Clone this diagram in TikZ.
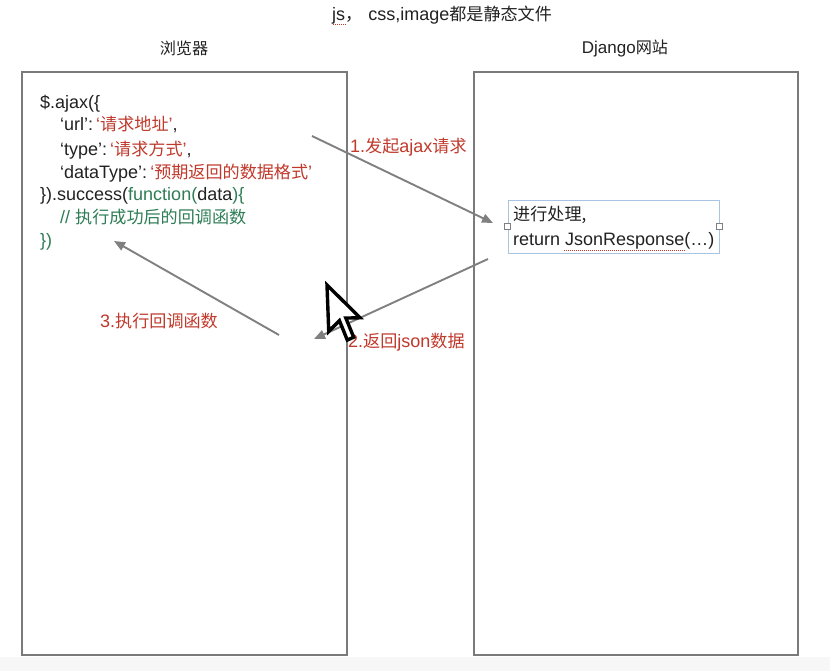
\documentclass[tikz,border=0pt]{standalone}
\usepackage{fontspec}
\setmainfont{Liberation Sans}
\newfontfamily\cjk[Scale=0.95]{Noto Sans CJK SC}
\usetikzlibrary{arrows.meta}
\definecolor{boxgray}{HTML}{7A7A7A}
\definecolor{arrgray}{HTML}{808080}
\definecolor{codered}{HTML}{C0392B}
\definecolor{codegreen}{HTML}{2E7D55}
\definecolor{txt}{HTML}{222222}
\definecolor{selblue}{HTML}{A9C3E3}
\tikzset{
  panel/.style={draw=boxgray, line width=2pt},
  title/.style={font=\fontsize{17}{20}\selectfont, text=txt, inner sep=0pt},
  codeline/.style={font=\fontsize{18}{22}\selectfont, text=txt, anchor=base west, inner sep=0pt},
  steplabel/.style={font=\fontsize{18}{22}\selectfont, text=codered, inner sep=0pt},
  flow/.style={draw=arrgray, line width=1.9pt, -{Triangle[length=11pt,width=9pt]}},
  handle/.style={draw=gray, fill=white, line width=0.6pt, minimum size=6pt, inner sep=0pt},
}
\begin{document}
\begin{tikzpicture}[x=1pt,y=-1pt]
\useasboundingbox (0,0) rectangle (830,671);
\fill[white] (0,0) rectangle (830,671);
\fill[black!3] (0,657) rectangle (830,671);

% titles
\node[title, font=\fontsize{18}{20}\selectfont, anchor=west] (top) at (332,15) {js{\cjk ，}\hspace{6pt}css,image{\cjk 都是静态文件}};
\draw[codered, densely dotted, line width=1pt] (333,25) -- (347,25);
\node[title] (t1) at (184,48) {\cjk 浏览器};
\node[title] (t2) at (625,48) {Django{\cjk 网站}};

% panels
\draw[panel] (22,72) rectangle (347,655);
\draw[panel] (474,72) rectangle (798,655);

% code
\node[codeline] (c1) at (40,109) {\$.ajax(\{};
\node[codeline] (c2) at (60,131) {‘url’:\hspace{3pt}\textcolor{codered}{‘{\cjk 请求地址}’},};
\node[codeline] (c3) at (60,156) {‘type’:\hspace{3pt}\textcolor{codered}{‘{\cjk 请求方式}’},};
\node[codeline] (c4) at (60,179) {‘dataType’:\hspace{3pt}\textcolor{codered}{‘{\cjk 预期返回的数据格式}’}};
\node[codeline] (c5) at (40,201) {\}).success(\textcolor{codegreen}{function(}data\textcolor{codegreen}{)\{}};
\node[codeline, text=codegreen] (c6) at (60,224) {// {\cjk 执行成功后的回调函数}};
\node[codeline, text=codegreen] (c7) at (40,247) {\})};

% server box
\node[draw=selblue, line width=0.8pt, minimum width=211pt, minimum height=53pt, inner sep=0pt] (srv) at (613.5,226.5) {};
\node[codeline] (s1) at (513,221) {\cjk 进行处理,};
\node[codeline] (s2) at (513,246) {return JsonResponse(…)};
\draw[codered, densely dotted, line width=1pt] (564,251) -- (685,251);
\node[handle] (h1) at (srv.west) {};
\node[handle] (h2) at (srv.east) {};

% arrows
\coordinate (a1s) at (312,136);
\coordinate (a1e) at (493,223);
\coordinate (a2s) at (488,259);
\coordinate (a2e) at (314,339);
\coordinate (a3s) at (279,335);
\coordinate (a3e) at (114,241);
\draw[flow] (a1s) -- (a1e);
\draw[flow] (a2s) -- (a2e);
\draw[flow] (a3s) -- (a3e);

\node[steplabel, anchor=west] (l1) at (350,147) {1.{\cjk 发起}ajax{\cjk 请求}};
\node[steplabel, anchor=west] (l2) at (348,342) {2.{\cjk 返回}json{\cjk 数据}};
\node[steplabel, anchor=west] (l3) at (100,321) {3.{\cjk 执行回调函数}};

% mouse cursor
\begin{scope}[shift={(327,285)}, scale=2.9]
\draw[fill=white, draw=black, line width=3.4pt, line join=miter]
  (0,0) -- (0.6,16) -- (4.3,12.3) -- (7,19) -- (9.2,18) -- (6.5,11.4) -- (11.4,11.3) -- cycle;
\end{scope}
\end{tikzpicture}
\end{document}
